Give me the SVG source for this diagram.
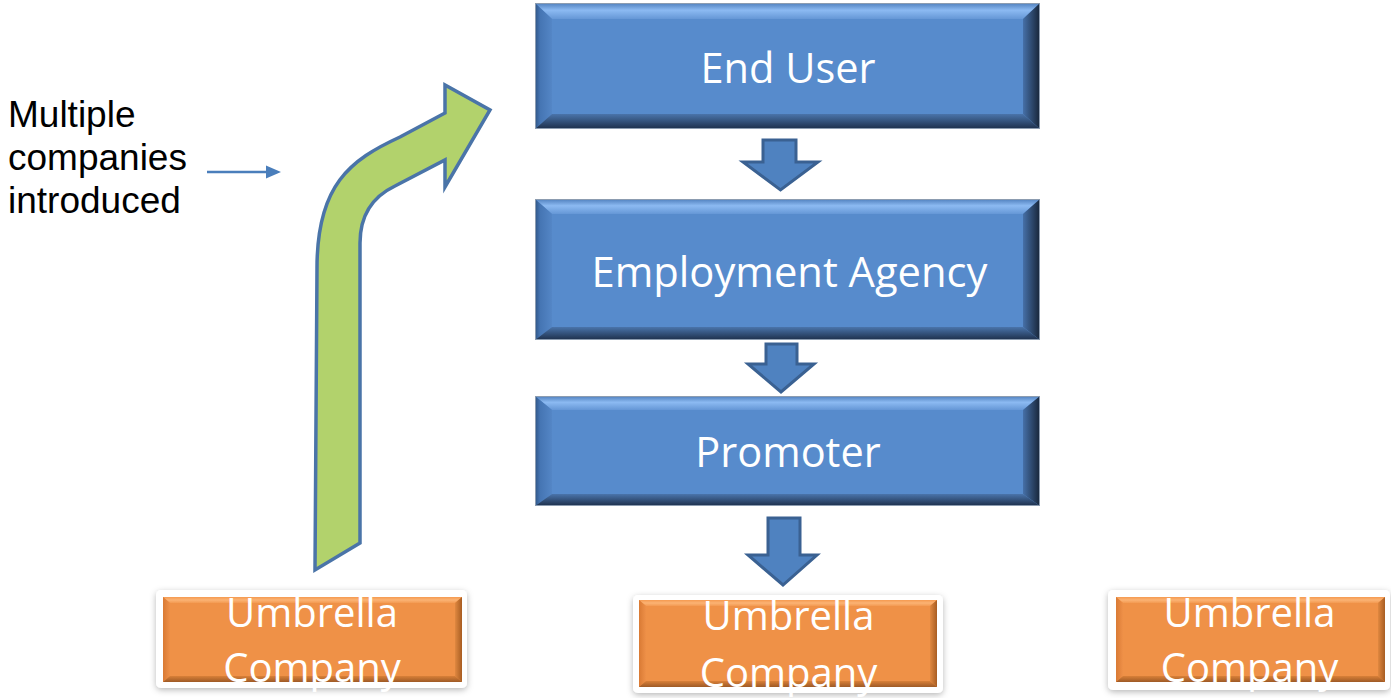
<svg xmlns="http://www.w3.org/2000/svg" width="1391" height="698" viewBox="0 0 1391 698">
  <defs>
    <!-- blue bevel shading -->
    <linearGradient id="bTop" x1="0" y1="0" x2="0" y2="1">
      <stop offset="0" stop-color="#4f7fbd"/>
      <stop offset="0.45" stop-color="#8cbaf2"/>
      <stop offset="1" stop-color="#6597d6"/>
    </linearGradient>
    <linearGradient id="bLeft" x1="0" y1="0" x2="1" y2="0">
      <stop offset="0" stop-color="#2f5585"/>
      <stop offset="0.3" stop-color="#4575b3"/>
      <stop offset="1" stop-color="#5486c6"/>
    </linearGradient>
    <linearGradient id="bRight" x1="0" y1="0" x2="1" y2="0">
      <stop offset="0" stop-color="#4670a8"/>
      <stop offset="1" stop-color="#172538"/>
    </linearGradient>
    <linearGradient id="bBottom" x1="0" y1="0" x2="0" y2="1">
      <stop offset="0" stop-color="#4a74ab"/>
      <stop offset="1" stop-color="#1d2f4a"/>
    </linearGradient>
    <!-- orange bevel shading -->
    <linearGradient id="oTop" x1="0" y1="0" x2="0" y2="1">
      <stop offset="0" stop-color="#f59a50"/>
      <stop offset="0.5" stop-color="#fbb374"/>
      <stop offset="1" stop-color="#f39a52"/>
    </linearGradient>
    <linearGradient id="oLeft" x1="0" y1="0" x2="1" y2="0">
      <stop offset="0" stop-color="#d97a34"/>
      <stop offset="1" stop-color="#ee9048"/>
    </linearGradient>
    <linearGradient id="oRight" x1="0" y1="0" x2="1" y2="0">
      <stop offset="0" stop-color="#e08840"/>
      <stop offset="1" stop-color="#a85d22"/>
    </linearGradient>
    <linearGradient id="oBottom" x1="0" y1="0" x2="0" y2="1">
      <stop offset="0" stop-color="#d98038"/>
      <stop offset="1" stop-color="#9e5a26"/>
    </linearGradient>
    <filter id="soft" x="-10%" y="-20%" width="120%" height="150%">
      <feDropShadow dx="0" dy="2" stdDeviation="3" flood-color="#000" flood-opacity="0.28"/>
    </filter>
  </defs>
  <style>
    .face { fill: #578bcc; }
    .edge { fill: none; stroke: #8c9cb0; stroke-width: 1; }
    .oface { fill: #ef9147; }
    .frame { fill: #ffffff; filter: url(#soft); }
    .lbl { font-family: "Open Sans", "Noto Sans", sans-serif; font-size: 41.5px; fill: #ffffff; text-anchor: middle; }
    .olbl { font-family: "Open Sans", "Noto Sans", sans-serif; font-size: 40px; fill: #ffffff; text-anchor: middle; }
    .note { font-family: "Liberation Sans", Arial, sans-serif; font-size: 37px; fill: #000000; }
    .down { fill: #4f82c0; stroke: #3a6192; stroke-width: 3; stroke-linejoin: miter; }
  </style>
  <rect width="1391" height="698" fill="#ffffff"/>

  <!-- note on the left -->
  <g id="note">
    <text class="note" x="8" y="127">Multiple</text>
    <text class="note" x="8" y="170">companies</text>
    <text class="note" x="8" y="213">introduced</text>
  </g>

  <!-- connectors -->
  <g id="connectors">
    <line x1="207" y1="172" x2="268" y2="172" stroke="#4a7ebb" stroke-width="2.5"/>
    <polygon points="266,165.5 281,172 266,178.5" fill="#4a7ebb"/>
    <path d="M315,570 L317,268 C317,185 350,160 400,137 L445,113 L445,85 L490,110 L445,187 L445,160 L395,186 C372,197 360,215 360,243 L360,543 Z" fill="#b2d26c" stroke="#4a74a8" stroke-width="3.5" stroke-linejoin="miter"/>
    <path class="down" d="M763,140 L796,140 L796,162 L818,162 L780.5,190 L743,162 L763,162 Z"/>
    <path class="down" d="M766,344 L797,344 L797,364 L814,364 L781,392 L748,364 L766,364 Z"/>
    <path class="down" d="M768,518 L800,518 L800,555 L817,555 L783,585 L748,555 L768,555 Z"/>
  </g>

  <!-- End User -->
  <g id="end-user">
    <rect class="face" x="535" y="3" width="505" height="126"/>
    <polygon points="535,3 1040,3 1023,19 552,19" fill="url(#bTop)"/>
    <polygon points="535,3 552,19 552,114 535,129" fill="url(#bLeft)"/>
    <polygon points="1040,3 1040,129 1023,114 1023,19" fill="url(#bRight)"/>
    <polygon points="535,129 552,114 1023,114 1040,129" fill="url(#bBottom)"/>
    <rect class="edge" x="535.5" y="3.5" width="504" height="125"/>
    <text class="lbl" x="788" y="83">End User</text>
  </g>

  <!-- Employment Agency -->
  <g id="employment-agency">
    <rect class="face" x="535" y="199" width="505" height="141"/>
    <polygon points="535,199 1040,199 1023,214 552,214" fill="url(#bTop)"/>
    <polygon points="535,199 552,214 552,327 535,340" fill="url(#bLeft)"/>
    <polygon points="1040,199 1040,340 1023,327 1023,214" fill="url(#bRight)"/>
    <polygon points="535,340 552,327 1023,327 1040,340" fill="url(#bBottom)"/>
    <rect class="edge" x="535.5" y="199.5" width="504" height="140"/>
    <text class="lbl" x="789.5" y="287" textLength="396" lengthAdjust="spacingAndGlyphs">Employment Agency</text>
  </g>

  <!-- Promoter -->
  <g id="promoter">
    <rect class="face" x="535" y="396" width="505" height="110"/>
    <polygon points="535,396 1040,396 1023,410 552,410" fill="url(#bTop)"/>
    <polygon points="535,396 552,410 552,494 535,506" fill="url(#bLeft)"/>
    <polygon points="1040,396 1040,506 1023,494 1023,410" fill="url(#bRight)"/>
    <polygon points="535,506 552,494 1023,494 1040,506" fill="url(#bBottom)"/>
    <rect class="edge" x="535.5" y="396.5" width="504" height="109"/>
    <text class="lbl" x="788" y="467">Promoter</text>
  </g>

  <!-- Umbrella Company (left) -->
  <g id="umbrella-left">
    <rect class="frame" x="156" y="590" width="311" height="98" rx="5"/>
    <rect class="oface" x="163" y="597" width="299" height="85"/>
    <polygon points="163,597 462,597 455,603 170,603" fill="url(#oTop)"/>
    <polygon points="163,597 170,603 170,676 163,682" fill="url(#oLeft)"/>
    <polygon points="462,597 462,682 455,676 455,603" fill="url(#oRight)"/>
    <polygon points="163,682 170,676 455,676 462,682" fill="url(#oBottom)"/>
    <text class="olbl" x="312" y="627">Umbrella</text>
    <text class="olbl" x="312" y="682">Company</text>
  </g>

  <!-- Umbrella Company (middle) -->
  <g id="umbrella-middle">
    <rect class="frame" x="633" y="595" width="310" height="98" rx="5"/>
    <rect class="oface" x="639" y="600" width="298" height="87"/>
    <polygon points="639,600 937,600 930,606 646,606" fill="url(#oTop)"/>
    <polygon points="639,600 646,606 646,681 639,687" fill="url(#oLeft)"/>
    <polygon points="937,600 937,687 930,681 930,606" fill="url(#oRight)"/>
    <polygon points="639,687 646,681 930,681 937,687" fill="url(#oBottom)"/>
    <text class="olbl" x="788.5" y="630">Umbrella</text>
    <text class="olbl" x="788.5" y="687">Company</text>
  </g>

  <!-- Umbrella Company (right) -->
  <g id="umbrella-right">
    <rect class="frame" x="1108" y="590" width="282" height="100" rx="5"/>
    <rect class="oface" x="1116" y="597" width="269" height="85"/>
    <polygon points="1116,597 1385,597 1378,603 1123,603" fill="url(#oTop)"/>
    <polygon points="1116,597 1123,603 1123,676 1116,682" fill="url(#oLeft)"/>
    <polygon points="1385,597 1385,682 1378,676 1378,603" fill="url(#oRight)"/>
    <polygon points="1116,682 1123,676 1378,676 1385,682" fill="url(#oBottom)"/>
    <text class="olbl" x="1249.5" y="627">Umbrella</text>
    <text class="olbl" x="1249.5" y="682">Company</text>
  </g>
</svg>
